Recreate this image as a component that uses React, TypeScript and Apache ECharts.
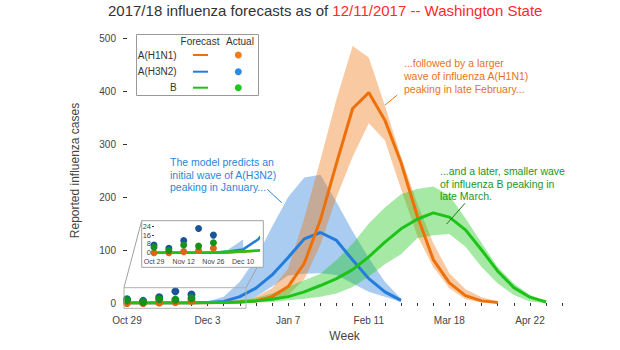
import React, { useEffect, useRef } from "react";
import * as echarts from "echarts";

// ---- tick labels ----
const mainTickLabels = ["Oct 29", "Dec 3", "Jan 7", "Feb 11", "Mar 18", "Apr 22"]; // every 5 weeks from week 0
const insetTickLabels = ["Oct 29", "Nov 12", "Nov 26", "Dec 10"]; // every 2 weeks from week 0

// ---- observed (actual) counts, weeks 0..4 ----
const obsWeeks = [0, 1, 2, 3, 4];
const obsH1N1 = [0, 0, 1, 2, 4];
const obsH3N2 = [7, 4, 11, 22, 16];
const obsB = [5, 2, 7, 6, 9];

// ---- forecast medians (from week 0) ----
const fcH1N1 = [0, 0, 0, 0, 0, 0, 1, 2, 4, 12, 31, 75, 157, 264, 367, 397, 345, 265, 165, 82, 38, 14, 4, 1];
const fcH3N2 = [0, 0, 0, 0, 0, 1, 3, 12, 28, 53, 86, 121, 133, 118, 81, 46, 21, 5];
const fcB = [0, 0, 0, 0, 0, 1, 1, 2, 4, 7, 12, 21, 33, 46, 63, 87, 115, 140, 158, 170, 162, 138, 100, 60, 29, 11, 2];

// ---- forecast intervals ----
const bandStartH1N1 = 6;
const loH1N1 = [0, 0, 1, 5, 15, 45, 110, 200, 276, 339, 307, 215, 128, 68, 28, 7, 1, 0];
const hiH1N1 = [2, 4, 12, 28, 65, 160, 270, 385, 485, 463, 372, 276, 188, 113, 56, 26, 11, 3];
const bandStartH3N2 = 5;
const loH3N2 = [0, 0, 3, 12, 31, 52, 55, 56, 53, 37, 21, 12, 2];
const hiH3N2 = [3, 12, 40, 84, 144, 200, 237, 242, 190, 135, 85, 40, 8];
const bandStartB = 5;
const loB = [0, 0, 0, 1, 2, 5, 8, 12, 18, 30, 50, 73, 92, 122, 128, 130, 106, 68, 37, 15, 3, 0];
const hiB = [1, 2, 5, 10, 18, 31, 43, 55, 81, 112, 150, 180, 205, 215, 220, 203, 160, 113, 68, 37, 15, 3];

const FONT = "'Liberation Sans', Arial, Helvetica, sans-serif";

const C = {
  h1Line: "rgb(238,112,8)",
  h3Line: "rgb(35,125,220)",
  bLine: "rgb(30,195,25)",
  h1Band: "rgba(240,120,20,0.4)",
  h3Band: "rgba(30,120,215,0.38)",
  bBand: "rgba(30,200,30,0.4)",
  h1Pt: "#e0660e",
  h3Pt: "#1a5599",
  bPt: "#17901c",
  h1Leg: "#f07d1b",
  h3Leg: "#2a8ae6",
  bLeg: "#1ec81e",
};

const pts = (arr: number[], start: number) => arr.map((v, i) => [start + i, v]);

function bandSeries(lo: number[], hi: number[], start: number, color: string, gi: number, z: number, limit?: number) {
  const n = limit === undefined ? lo.length : limit;
  const loS = lo.slice(0, n);
  const hiS = hi.slice(0, n);
  return {
    type: "custom", xAxisIndex: gi, yAxisIndex: gi, z, silent: true, clip: true,
    data: [[start, 0]], encode: { x: 0, y: 1 },
    renderItem: (_p: any, api: any) => {
      const up = hiS.map((h, i) => api.coord([start + i, h]));
      const dn = loS.map((l, i) => api.coord([start + i, l])).reverse();
      return { type: "polygon", shape: { points: up.concat(dn) }, style: { fill: color } };
    },
  };
}

function lineSeries(arr: number[], color: string, gi: number, width: number, z: number) {
  return {
    type: "line", xAxisIndex: gi, yAxisIndex: gi, data: pts(arr, 0), symbol: "none",
    lineStyle: { color, width }, z, silent: true,
  };
}

function pointSeries(arr: number[], color: string, gi: number, size: number, z: number) {
  return {
    type: "scatter", xAxisIndex: gi, yAxisIndex: gi, data: obsWeeks.map((w, i) => [w, arr[i]]),
    symbolSize: size, itemStyle: { color, opacity: 1 }, z, silent: true,
  };
}

function annotation(x: number, y: number, text: string, color: string) {
  return {
    type: "text", x, y, z: 20,
    style: { text, fill: color, font: `10.5px ${FONT}`, lineHeight: 12.7, align: "left", verticalAlign: "top" },
  };
}

function seg(x1: number, y1: number, x2: number, y2: number, color: string, z = 20, w = 1) {
  return { type: "line", z, shape: { x1, y1, x2, y2 }, style: { stroke: color, lineWidth: w } };
}

function legendText(x: number, y: number, text: string, align: string) {
  return {
    type: "text", x, y, z: 20,
    style: { text, fill: "#333", font: `10px ${FONT}`, align, verticalAlign: "middle" },
  };
}

export default function App() {
  const ref = useRef<HTMLDivElement>(null);
  useEffect(() => {
    if (!ref.current) return;
    const chart = echarts.init(ref.current, null, { renderer: "svg" });
    const legendRows = [
      { name: "A(H1N1)", line: C.h1Line, pt: C.h1Leg, y: 55 },
      { name: "A(H3N2)", line: C.h3Line, pt: C.h3Leg, y: 71.7 },
      { name: "B", line: C.bLine, pt: C.bLeg, y: 87.7 },
    ];
    const legendEls: any[] = [
      { type: "rect", z: 19, shape: { x: 136.5, y: 34.5, width: 122, height: 61 }, style: { fill: "#fff", stroke: "#999", lineWidth: 1 } },
      legendText(200, 41.7, "Forecast", "center"),
      legendText(240, 41.7, "Actual", "center"),
    ];
    legendRows.forEach((r) => {
      legendEls.push(legendText(176.7, r.y, r.name, "right"));
      legendEls.push(seg(193, r.y, 208, r.y, r.line, 20, 2));
      legendEls.push({ type: "circle", z: 20, shape: { cx: 238.3, cy: r.y, r: 3.5 }, style: { fill: r.pt } });
    });

    const option: any = {
      animation: false,
      title: {
        text: "{a|2017/18 influenza forecasts as of }{b|12/11/2017 -- Washington State}",
        left: 108,
        top: 3,
        padding: 0,
        textStyle: {
          fontWeight: "normal",
          rich: {
            a: { fontSize: 15, fontFamily: FONT, color: "#333", fontWeight: "normal" },
            b: { fontSize: 15, fontFamily: FONT, color: "#ff2a2a", fontWeight: "normal" },
          },
        },
      },
      grid: [
        { left: 127, right: 57.8, top: 38, bottom: 47 },
        { left: 154, width: 104, top: 226.3, height: 26.4 },
      ],
      xAxis: [
        {
          type: "value", gridIndex: 0, min: 0, max: 27, interval: 1, offset: 6,
          axisLine: { show: false }, splitLine: { show: false },
          axisTick: { show: true, length: 3, lineStyle: { color: "#333" } },
          axisLabel: {
            margin: 6, fontSize: 10, fontFamily: FONT, color: "#444",
            formatter: (v: number) => (v % 5 === 0 && mainTickLabels[v / 5] ? mainTickLabels[v / 5] : ""),
          },
          name: "Week", nameLocation: "middle", nameGap: 20,
          nameTextStyle: { fontSize: 12, fontFamily: FONT, color: "#444" },
        },
        {
          type: "value", gridIndex: 1, min: 0, max: 7, interval: 2, z: 8,
          axisLine: { show: false }, splitLine: { show: false }, axisTick: { show: false },
          axisLabel: {
            margin: 5, fontSize: 7, fontFamily: FONT, color: "#444",
            formatter: (v: number) => (v % 2 === 0 && insetTickLabels[v / 2] ? insetTickLabels[v / 2] : ""),
          },
        },
      ],
      yAxis: [
        {
          type: "value", gridIndex: 0, min: 0, max: 500, interval: 100, offset: 5,
          axisLine: { show: false }, splitLine: { show: false },
          axisTick: { show: true, length: 4, lineStyle: { color: "#333" } },
          axisLabel: { margin: 6, fontSize: 10, fontFamily: FONT, color: "#444" },
          name: "Reported influenza cases", nameLocation: "middle", nameGap: 41,
          nameTextStyle: { fontSize: 12, fontFamily: FONT, color: "#444" },
        },
        {
          type: "value", gridIndex: 1, min: 0, max: 24, interval: 8, z: 8,
          axisLine: { show: false }, splitLine: { show: false },
          axisTick: { show: true, length: 2, lineStyle: { color: "#333" } },
          axisLabel: { margin: 3, fontSize: 7.5, fontFamily: FONT, color: "#444" },
        },
      ],
      series: [
        // main chart
        bandSeries(loH3N2, hiH3N2, bandStartH3N2, C.h3Band, 0, 2),
        bandSeries(loH1N1, hiH1N1, bandStartH1N1, C.h1Band, 0, 2),
        bandSeries(loB, hiB, bandStartB, C.bBand, 0, 2),
        lineSeries(fcH3N2, C.h3Line, 0, 3, 3),
        lineSeries(fcH1N1, C.h1Line, 0, 3, 3),
        lineSeries(fcB, C.bLine, 0, 3, 3),
        pointSeries(obsH3N2, C.h3Pt, 0, 8, 4),
        pointSeries(obsH1N1, C.h1Pt, 0, 8, 4),
        pointSeries(obsB, C.bPt, 0, 8, 4),
        // inset
        bandSeries(loH3N2, hiH3N2, bandStartH3N2, C.h3Band, 1, 7, 2),
        lineSeries(fcH3N2, C.h3Line, 1, 2.5, 7),
        lineSeries(fcH1N1, C.h1Line, 1, 2.5, 7),
        lineSeries(fcB, C.bLine, 1, 2.5, 7),
        pointSeries(obsH3N2, C.h3Pt, 1, 7, 8),
        pointSeries(obsH1N1, C.h1Pt, 1, 7, 8),
        pointSeries(obsB, C.bPt, 1, 7, 8),
      ],
      graphic: {
        elements: [
          // inset frame
          { type: "rect", z: 6, shape: { x: 141.7, y: 220.7, width: 121.6, height: 46.6 }, style: { fill: "#fff", stroke: "#a0a0a0", lineWidth: 1 } },
          { type: "rect", z: 5, shape: { x: 124, y: 287.7, width: 122, height: 20.6 }, style: { fill: "none", stroke: "#b0b0b0", lineWidth: 1 } },
          seg(124, 287.7, 141.7, 220.7, "#a0a0a0", 5),
          seg(246, 287.7, 263.3, 256, "#a0a0a0", 5),
          // annotations
          annotation(170, 155.5, "The model predicts an\ninitial wave of A(H3N2)\npeaking in January...", "#2a86dc"),
          seg(267.3, 189.3, 281.7, 202.7, "#2a86dc"),
          annotation(404, 57, "...followed by a larger\nwave of influenza A(H1N1)\npeaking in late February...", "#e8731c"),
          seg(397.3, 95, 385, 105, "#e8731c"),
          annotation(440, 164.5, "...and a later, smaller wave\nof influenza B peaking in\nlate March.", "#1c961c"),
          seg(465, 203.3, 446.7, 224, "#1a7a1a"),
          ...legendEls,
        ],
      },
    };
    chart.setOption(option);
    return () => chart.dispose();
  }, []);
  return <div ref={ref} style={{ position: "absolute", left: 0, top: 0, width: 620, height: 350 }} />;
}
